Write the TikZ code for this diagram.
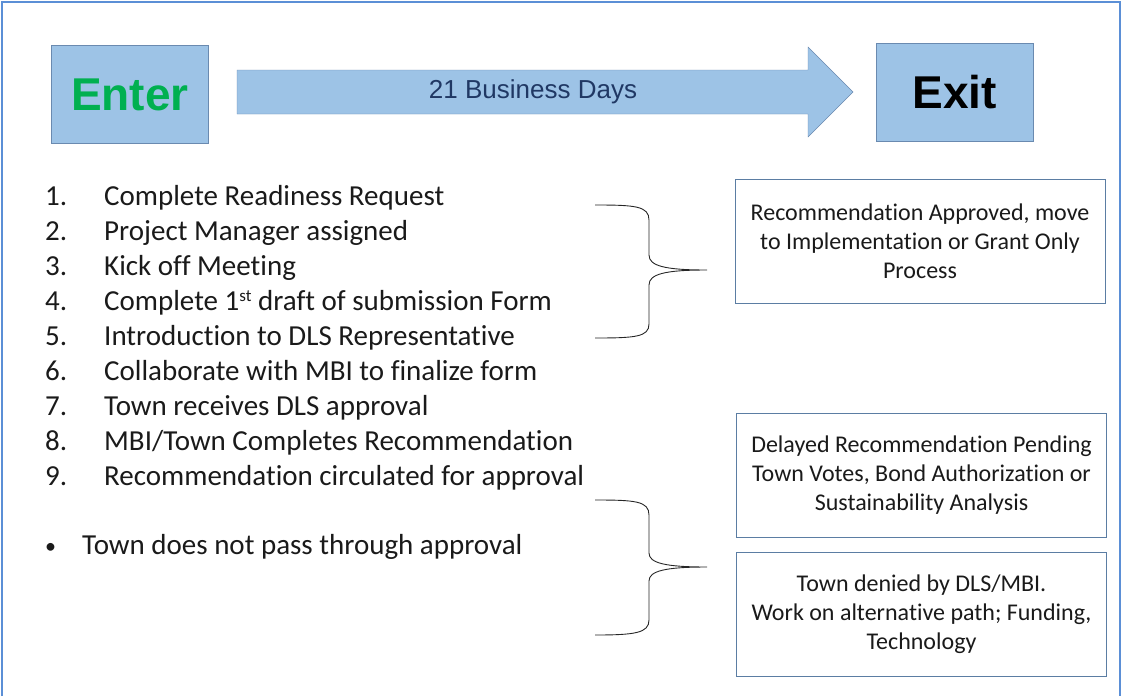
\documentclass[tikz,border=0pt]{standalone}
\usepackage{fontspec}
\setmainfont{Carlito}[Ligatures=NoCommon]
\newfontfamily\arialfont{Liberation Sans}
\usetikzlibrary{positioning}
\definecolor{boxfill}{HTML}{9DC3E6}
\definecolor{boxline}{HTML}{6A8AB0}
\definecolor{noteline}{HTML}{5B7DA3}
\definecolor{framecol}{HTML}{5B8FD6}
\definecolor{entergreen}{HTML}{00B050}
\definecolor{daysnavy}{HTML}{203864}
\definecolor{listtext}{HTML}{1A1A1A}

\begin{document}
\begin{tikzpicture}[x=1pt, y=-1pt,
  stagebox/.style={draw=boxline, fill=boxfill, minimum width=157pt, minimum height=98pt,
                   inner sep=0pt, font=\arialfont\bfseries\fontsize{46}{46}\selectfont},
  num/.style={anchor=base west, inner sep=0pt, font=\fontsize{29}{29}\selectfont, text=listtext},
  outcome/.style={draw=noteline, fill=white, align=center, minimum width=370pt, minimum height=124pt,
                  inner sep=0pt, font=\fontsize{24}{29}\selectfont, text=listtext},
  brace/.style={draw=black!85, line width=0.9pt}]
\useasboundingbox (0,0) rectangle (1121,696);
% outer frame
\draw[framecol, line width=2pt] (1.5,696) -- (1.5,1.5) -- (1119.5,1.5) -- (1119.5,696);

% top row: enter, duration arrow, exit
\node[stagebox, text=entergreen] (enter) at (130,94.5) {Enter};
\node[stagebox, text=black] (exit) at (954.5,92.5) {Exit};
\draw[boxline, fill=boxfill] (237,70) -- (808,70) -- (808,47) -- (853,92)
     -- (808,137) -- (808,114) -- (237,114) -- cycle;
\node[font=\arialfont\fontsize{26}{26}\selectfont, text=daysnavy] (days) at (533,92) {21 Business Days};

% steps
\node[num] (n1) at (45,205) {1.};
\node[num] (n2) at (45,240) {2.};
\node[num] (n3) at (45,275) {3.};
\node[num] (n4) at (45,310) {4.};
\node[num] (n5) at (45,345) {5.};
\node[num] (n6) at (45,380) {6.};
\node[num] (n7) at (45,415.5) {7.};
\node[num] (n8) at (45,450.5) {8.};
\node[num] (n9) at (45,485.5) {9.};
\node[num] (s1) at (104,205) {Complete Readiness Request};
\node[num] (s2) at (104,240) {Project Manager assigned};
\node[num] (s3) at (104,275) {Kick off Meeting};
\node[num] (s4) at (104,310) {Complete 1\raisebox{0.3em}{\fontsize{17}{17}\selectfont st} draft of submission Form};
\node[num] (s5) at (104,345) {Introduction to DLS Representative};
\node[num] (s6) at (104,380) {Collaborate with MBI to finalize form};
\node[num] (s7) at (104,415.5) {Town receives DLS approval};
\node[num] (s8) at (104,450.5) {MBI/Town Completes Recommendation};
\node[num] (s9) at (104,485.5) {Recommendation circulated for approval};
\node[num, font=\fontsize{22}{22}\selectfont] (dot) at (45,553) {\textbullet};
\node[num] (deny) at (82,554) {Town does not pass through approval};

% outcomes
\node[outcome] (approved) at (920,241) {Recommendation Approved, move\\to Implementation or Grant Only\\Process};
\node[outcome] (delayed) at (921.5,475.5) {Delayed Recommendation Pending\\Town Votes, Bond Authorization or\\Sustainability Analysis};
\node[outcome] (denied) at (921.5,614) {Town denied by DLS/MBI.\\Work on alternative path; Funding,\\Technology};

% braces
\draw[brace] (595,205) .. controls (635,205) and (649,206) .. (649,220) -- (649,255)
     .. controls (649,266) and (665,270) .. (707,270)
     .. controls (665,270) and (649,274) .. (649,285) -- (649,324)
     .. controls (649,337) and (635,338) .. (595,338);
\draw[brace] (595,500) .. controls (635,500) and (649,501) .. (649,515) -- (649,553)
     .. controls (649,563) and (665,567) .. (707,567)
     .. controls (665,567) and (649,571) .. (649,581) -- (649,620)
     .. controls (649,633) and (635,635) .. (595,635);
\end{tikzpicture}
\end{document}
